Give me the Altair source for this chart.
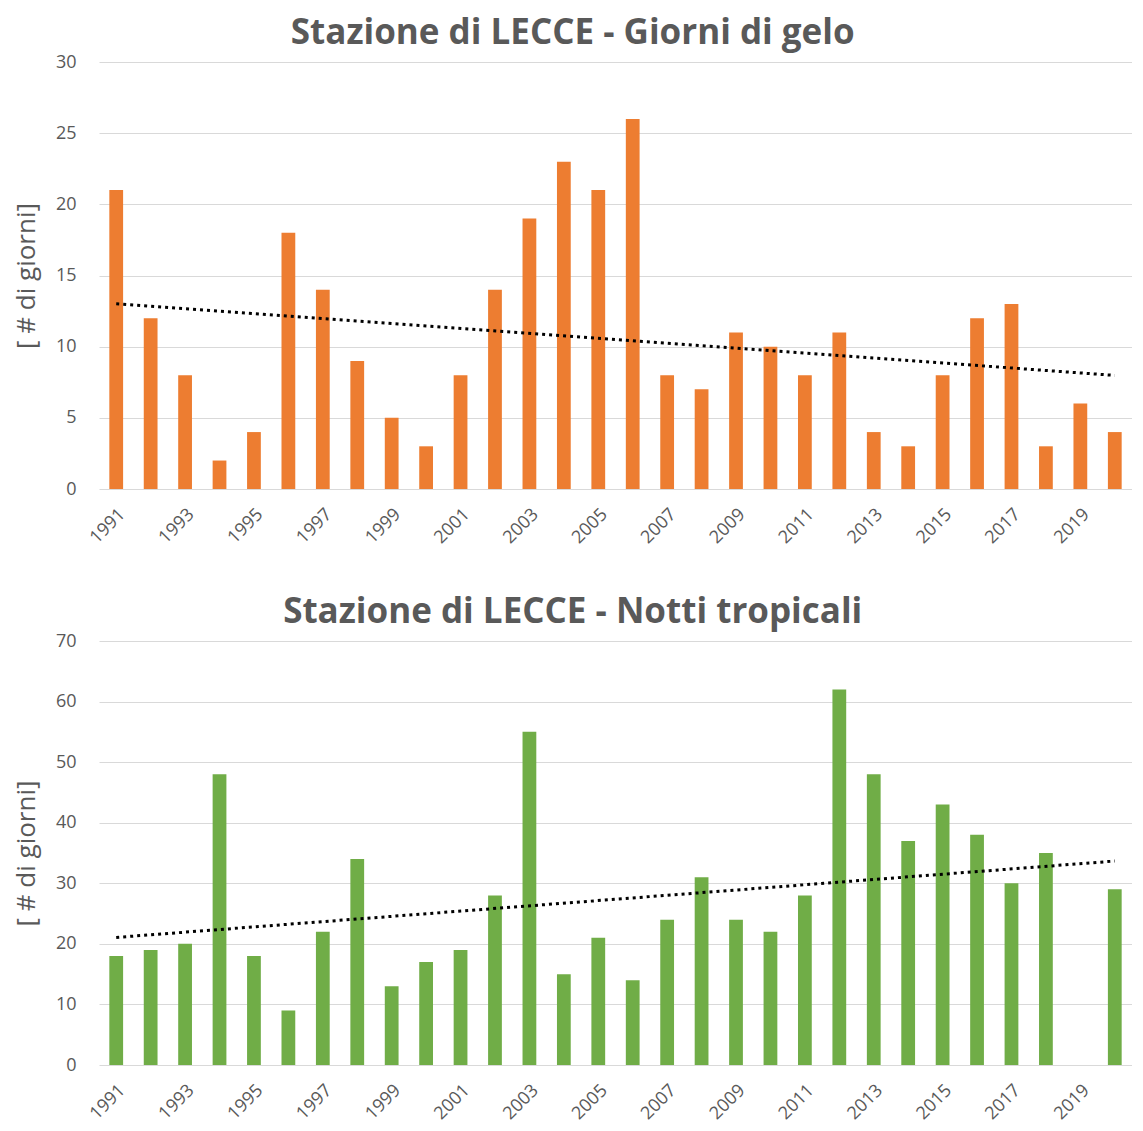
import altair as alt
import pandas as pd

years = list(range(1991, 2021))
giorni_gelo = [21, 12, 8, 2, 4, 18, 14, 9, 5, 3, 8, 14, 19, 23, 21, 26, 8, 7, 11, 10,
               8, 11, 4, 3, 8, 12, 13, 3, 6, 4]
notti_tropicali = [18, 19, 20, 48, 18, 9, 22, 34, 13, 17, 19, 28, 55, 15, 21, 14, 24, 31, 24, 22,
                   28, 62, 48, 37, 43, 38, 30, 35, None, 29]
label_years = [y for y in years if y % 2 == 1]

FONT = "Open Sans"
GREY = "#595959"

def panel(values, color, title, ymax, ystep, height):
    df = pd.DataFrame({"year": years, "value": values})
    x = alt.X("year:O", scale=alt.Scale(domain=years, paddingInner=0.6, paddingOuter=0.3),
              axis=alt.Axis(values=label_years, labelAngle=-45, labelFontSize=18, labelColor=GREY,
                            labelFont=FONT, title=None, domain=False, ticks=False, labelPadding=16,
                            grid=False))
    y = alt.Y("value:Q", scale=alt.Scale(domain=[0, ymax], nice=False),
              axis=alt.Axis(values=list(range(0, ymax + 1, ystep)), title="[ # di giorni]",
                            titleFontSize=26, titleFontWeight="normal", titleColor=GREY,
                            titleFont=FONT, titlePadding=16,
                            labelFontSize=18, labelColor=GREY, labelFont=FONT, labelPadding=23,
                            domain=False, ticks=False, grid=True, gridColor="#D9D9D9", gridWidth=1))
    bars = alt.Chart(df).mark_bar(color=color).encode(x=x, y=y)
    # trendline: blank year counted as zero (as in the original spreadsheet)
    trend = alt.Chart(df).transform_calculate(
        v="isValid(datum.value) ? datum.value : 0").transform_regression(
        "year", "v").mark_line(color="black", strokeWidth=3, strokeDash=[3, 4]).encode(
        x=alt.X("year:O"), y=alt.Y("v:Q"))
    return alt.layer(bars, trend).properties(
        width=1033, height=height,
        title=alt.TitleParams(title, fontSize=35, font=FONT, fontWeight="bold", color=GREY,
                              anchor="middle", frame="bounds", offset=2))

top = panel(giorni_gelo, "#ED7D31", "Stazione di LECCE - Giorni di gelo", 30, 5, 427)
bottom = panel(notti_tropicali, "#70AD47", "Stazione di LECCE - Notti tropicali", 70, 10, 424)

chart = alt.vconcat(top, bottom, spacing=48).properties(
    padding={"left": 5, "top": 8, "right": 0, "bottom": 0}
).configure_view(stroke=None)

chart.save("out.html", embed_options={"renderer": "svg", "actions": False})
